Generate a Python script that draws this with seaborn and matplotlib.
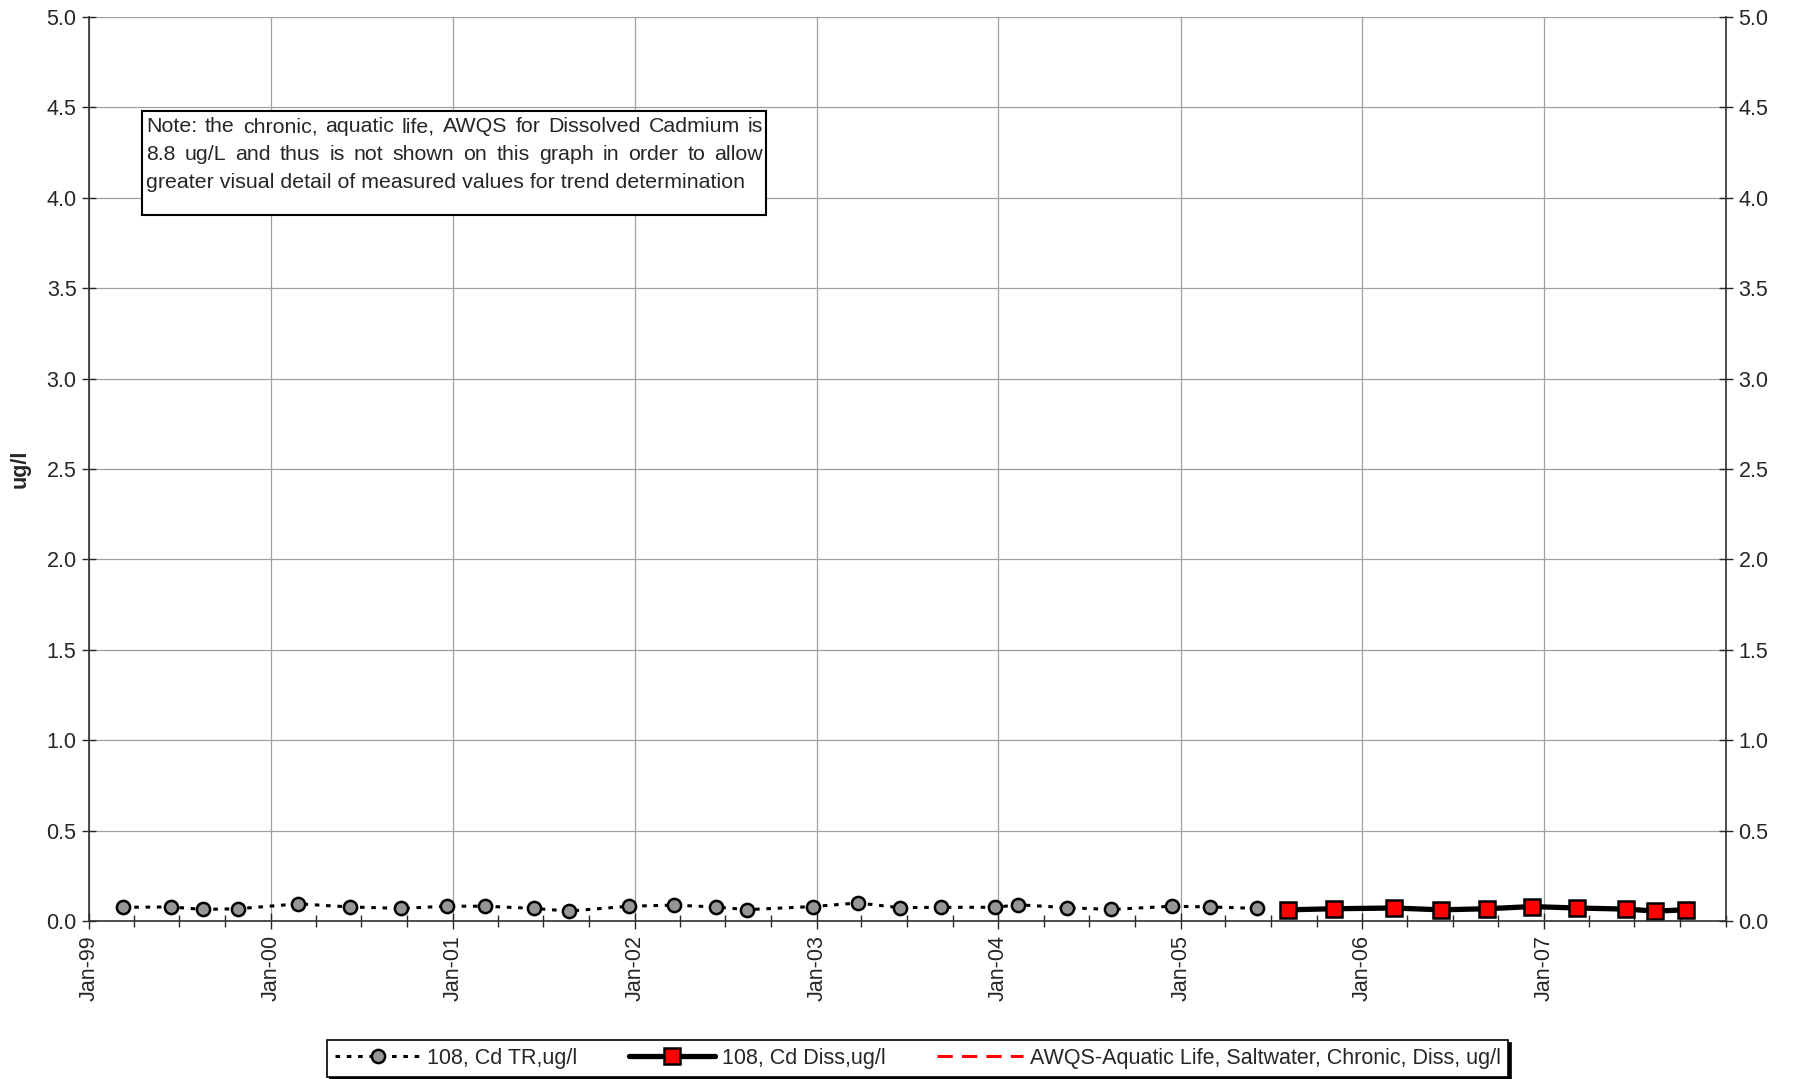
import matplotlib
matplotlib.use("Agg")
import matplotlib.pyplot as plt
import matplotlib.dates as mdates
from matplotlib.lines import Line2D
from matplotlib.patches import Rectangle
import seaborn as sns
import pandas as pd

# ---- data ----
tr_dates = ["1999-03-10", "1999-06-15", "1999-08-17", "1999-10-27", "2000-02-25",
            "2000-06-07", "2000-09-18", "2000-12-20", "2001-03-06", "2001-06-12",
            "2001-08-22", "2001-12-20", "2002-03-20", "2002-06-12", "2002-08-15",
            "2002-12-24", "2003-03-25", "2003-06-17", "2003-09-08", "2003-12-26",
            "2004-02-10", "2004-05-18", "2004-08-15", "2004-12-14", "2005-03-01",
            "2005-06-03"]
tr_values = [0.076, 0.078, 0.064, 0.068, 0.095, 0.078, 0.070, 0.082, 0.082, 0.070,
             0.055, 0.082, 0.088, 0.078, 0.063, 0.080, 0.100, 0.074, 0.076, 0.076,
             0.090, 0.074, 0.064, 0.082, 0.078, 0.070]
diss_dates = ["2005-08-05", "2005-11-05", "2006-03-05", "2006-06-08", "2006-09-08",
              "2006-12-07", "2007-03-08", "2007-06-15", "2007-08-12", "2007-10-12"]
diss_values = [0.062, 0.068, 0.072, 0.062, 0.068, 0.080, 0.072, 0.066, 0.055, 0.062]
awqs_dates = ["1999-01-01", "2008-01-01"]
awqs_values = [8.8, 8.8]
y_ticks = [0.0, 0.5, 1.0, 1.5, 2.0, 2.5, 3.0, 3.5, 4.0, 4.5, 5.0]
series_labels = ["108, Cd TR,ug/l", "108, Cd Diss,ug/l",
                 "AWQS-Aquatic Life, Saltwater, Chronic, Diss, ug/l"]
note_lines = ["Note: the chronic, aquatic life, AWQS for Dissolved Cadmium  is",
              "8.8 ug/L and thus is not shown on this graph in order to allow",
              "greater visual detail of measured values for trend determination"]

tr = pd.DataFrame({"date": pd.to_datetime(tr_dates), "value": tr_values})
diss = pd.DataFrame({"date": pd.to_datetime(diss_dates), "value": diss_values})
awqs = pd.DataFrame({"date": pd.to_datetime(awqs_dates), "value": awqs_values})

sns.set_style("white")
plt.rcParams["font.family"] = ["Liberation Sans", "DejaVu Sans"]

W, H = 1796, 1079
fig = plt.figure(figsize=(W / 100, H / 100), dpi=100)
ax = fig.add_axes([0.0496, 0.1464, 0.9114, 0.8378])

TR_STYLE = dict(color="black", lw=2.2, linestyle=(0, (1.5, 2.2)), marker="o",
                markersize=9.5, markerfacecolor="#969696", markeredgecolor="black",
                markeredgewidth=1.8)
DISS_STYLE = dict(color="black", lw=3.8, marker="s", markersize=11,
                  markerfacecolor="#ff0000", markeredgecolor="black",
                  markeredgewidth=1.8)
AWQS_STYLE = dict(color="red", lw=2.2, linestyle=(0, (5, 3)))

sns.lineplot(data=tr, x="date", y="value", ax=ax, **TR_STYLE)
sns.lineplot(data=diss, x="date", y="value", ax=ax, **DISS_STYLE)
sns.lineplot(data=awqs, x="date", y="value", ax=ax, **AWQS_STYLE)

ax.set_xlim(pd.Timestamp("1999-01-01"), pd.Timestamp("2008-01-01"))
ax.set_ylim(0, 5)
ax.set_yticks(y_ticks)
ax.set_yticklabels([f"{v:.1f}" for v in y_ticks])
ax.xaxis.set_minor_locator(mdates.MonthLocator(bymonth=[1, 4, 7, 10]))
majors = [pd.Timestamp(f"{y}-01-01") for y in range(1999, 2008)]
ax.set_xticks(majors)
ax.set_xticklabels([d.strftime("%b-%y") for d in majors], rotation=90)

ax.grid(True, which="major", color="#a0a0a0", lw=0.9)
for s in ax.spines.values():
    s.set_color("#303030")
    s.set_linewidth(1.2)
ax.spines["top"].set_visible(False)

ax.tick_params(axis="y", which="major", direction="inout", length=10, width=1,
               left=True, right=True, labelleft=True, labelright=True,
               labelsize=15.5, pad=4)
ax.tick_params(axis="x", which="major", direction="inout", length=12, width=1,
               bottom=True, labelsize=15.5, pad=4)
ax.tick_params(axis="x", which="minor", direction="inout", length=8, width=1,
               bottom=True)
ax.set_xlabel("")
ax.set_ylabel("ug/l", fontsize=15.5, fontweight="bold")
ax.yaxis.set_label_coords(-0.036, 0.5)

# note box
fig.patches.append(Rectangle((142 / W, 1 - 215 / H), (766 - 142) / W,
                             (215 - 111) / H, transform=fig.transFigure,
                             facecolor="white", edgecolor="black", lw=1.5, zorder=5))
renderer = fig.canvas.get_renderer()
x_left, x_right = 146, 763
for i, line in enumerate(note_lines):
    y = 1 - (127 + i * 28) / H
    if i == len(note_lines) - 1:
        fig.text(x_left / W, y, line, fontsize=15.4, va="center", ha="left", zorder=6)
        continue
    words = line.split()
    texts = [fig.text(0, y, w_, fontsize=15.4, va="center", ha="left", zorder=6)
             for w_ in words]
    widths = [t.get_window_extent(renderer).width for t in texts]
    gap = (x_right - x_left - sum(widths)) / (len(words) - 1)
    xpos = x_left
    for t, wd in zip(texts, widths):
        t.set_x(xpos / W)
        xpos += wd + gap

handles = [Line2D([], [], **TR_STYLE), Line2D([], [], **DISS_STYLE),
           Line2D([], [], **AWQS_STYLE)]
leg = fig.legend(handles, series_labels, loc="center", bbox_to_anchor=(0.511, 0.019),
                 ncol=3, fontsize=15.5, frameon=True, fancybox=False,
                 edgecolor="black", framealpha=1, handlelength=4.0,
                 columnspacing=2.4, handletextpad=0.3, borderpad=0.35,
                 shadow={"color": "black", "alpha": 1})
leg.get_frame().set_linewidth(1.2)

fig.savefig("out.png", dpi=100)
